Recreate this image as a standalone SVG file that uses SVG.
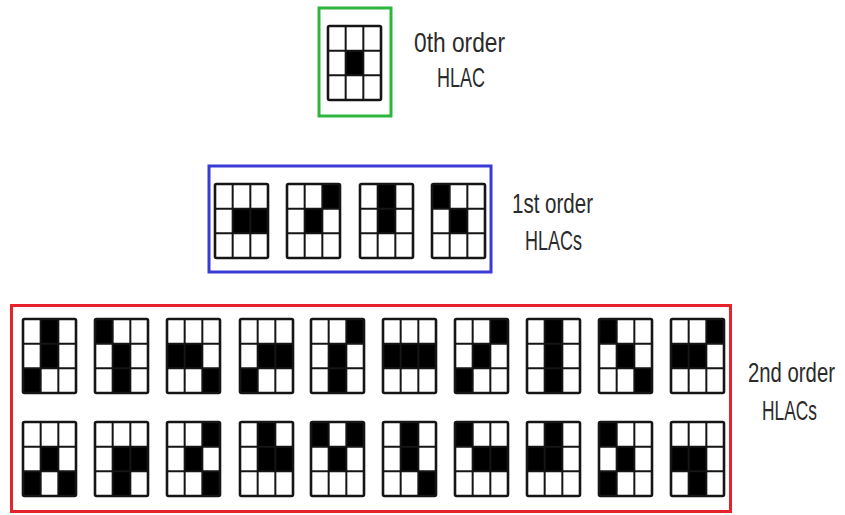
<svg xmlns="http://www.w3.org/2000/svg" xmlns:xlink="http://www.w3.org/1999/xlink" width="845" height="515" viewBox="0 0 845 515">
<style>
.frame{fill:none;stroke-width:3}
.lbl{font-family:"Liberation Sans",Arial,sans-serif;font-size:20px;fill:#2b2b2b;text-anchor:start}
.k{fill:#000}
.gl{fill:none;stroke:#151515;stroke-width:2}
.go{fill:none;stroke:#151515;stroke-width:2.6}
</style>
<defs>
<g id="grid">
<line class="gl" x1="17.67" y1="0" x2="17.67" y2="74"/>
<line class="gl" x1="35.33" y1="0" x2="35.33" y2="74"/>
<line class="gl" x1="0" y1="24.67" x2="53" y2="24.67"/>
<line class="gl" x1="0" y1="49.33" x2="53" y2="49.33"/>
<rect class="go" x="0" y="0" width="53" height="74" rx="1.5"/>
</g>
<rect id="c00" class="k" x="0" y="0" width="17.67" height="24.67"/>
<rect id="c01" class="k" x="17.67" y="0" width="17.67" height="24.67"/>
<rect id="c02" class="k" x="35.33" y="0" width="17.67" height="24.67"/>
<rect id="c10" class="k" x="0" y="24.67" width="17.67" height="24.67"/>
<rect id="c11" class="k" x="17.67" y="24.67" width="17.67" height="24.67"/>
<rect id="c12" class="k" x="35.33" y="24.67" width="17.67" height="24.67"/>
<rect id="c20" class="k" x="0" y="49.33" width="17.67" height="24.67"/>
<rect id="c21" class="k" x="17.67" y="49.33" width="17.67" height="24.67"/>
<rect id="c22" class="k" x="35.33" y="49.33" width="17.67" height="24.67"/>
</defs>
<rect width="845" height="515" fill="#fff"/>

<g id="order0">
<rect class="frame" x="319" y="8" width="72" height="108" stroke="#2db53e"/>
<g id="p0" transform="translate(328,26)"><use xlink:href="#c11"/><use xlink:href="#grid"/></g>
<g transform="translate(414,52) scale(1,1.35)"><text class="lbl" x="0" y="0" textLength="91" lengthAdjust="spacingAndGlyphs">0th order</text></g>
<g transform="translate(437,87) scale(1,1.35)"><text class="lbl" x="0" y="0" textLength="48" lengthAdjust="spacingAndGlyphs">HLAC</text></g>
</g>

<g id="order1">
<rect class="frame" x="209" y="166" width="282" height="106" stroke="#3a3ad6"/>
<g id="p1a" transform="translate(215,184)"><use xlink:href="#c11"/><use xlink:href="#c12"/><use xlink:href="#grid"/></g>
<g id="p1b" transform="translate(287,184)"><use xlink:href="#c02"/><use xlink:href="#c11"/><use xlink:href="#grid"/></g>
<g id="p1c" transform="translate(360,184)"><use xlink:href="#c01"/><use xlink:href="#c11"/><use xlink:href="#grid"/></g>
<g id="p1d" transform="translate(432,184)"><use xlink:href="#c00"/><use xlink:href="#c11"/><use xlink:href="#grid"/></g>
<g transform="translate(512,213) scale(1,1.35)"><text class="lbl" x="0" y="0" textLength="81" lengthAdjust="spacingAndGlyphs">1st order</text></g>
<g transform="translate(525,250) scale(1,1.35)"><text class="lbl" x="0" y="0" textLength="57" lengthAdjust="spacingAndGlyphs">HLACs</text></g>
</g>

<g id="order2">
<rect class="frame" x="11.5" y="305.5" width="719" height="206" stroke="#e6222b"/>
<g id="r1p1" transform="translate(23,319)"><use xlink:href="#c01"/><use xlink:href="#c11"/><use xlink:href="#c20"/><use xlink:href="#grid"/></g>
<g id="r1p2" transform="translate(95,319)"><use xlink:href="#c00"/><use xlink:href="#c11"/><use xlink:href="#c21"/><use xlink:href="#grid"/></g>
<g id="r1p3" transform="translate(167,319)"><use xlink:href="#c10"/><use xlink:href="#c11"/><use xlink:href="#c22"/><use xlink:href="#grid"/></g>
<g id="r1p4" transform="translate(240,319)"><use xlink:href="#c11"/><use xlink:href="#c12"/><use xlink:href="#c20"/><use xlink:href="#grid"/></g>
<g id="r1p5" transform="translate(311,319)"><use xlink:href="#c02"/><use xlink:href="#c11"/><use xlink:href="#c21"/><use xlink:href="#grid"/></g>
<g id="r1p6" transform="translate(383,319)"><use xlink:href="#c10"/><use xlink:href="#c11"/><use xlink:href="#c12"/><use xlink:href="#grid"/></g>
<g id="r1p7" transform="translate(455,319)"><use xlink:href="#c02"/><use xlink:href="#c11"/><use xlink:href="#c20"/><use xlink:href="#grid"/></g>
<g id="r1p8" transform="translate(527,319)"><use xlink:href="#c01"/><use xlink:href="#c11"/><use xlink:href="#c21"/><use xlink:href="#grid"/></g>
<g id="r1p9" transform="translate(599,319)"><use xlink:href="#c00"/><use xlink:href="#c11"/><use xlink:href="#c22"/><use xlink:href="#grid"/></g>
<g id="r1p10" transform="translate(671,319)"><use xlink:href="#c02"/><use xlink:href="#c10"/><use xlink:href="#c11"/><use xlink:href="#grid"/></g>

<g id="r2p1" transform="translate(23,422)"><use xlink:href="#c11"/><use xlink:href="#c20"/><use xlink:href="#c22"/><use xlink:href="#grid"/></g>
<g id="r2p2" transform="translate(95,422)"><use xlink:href="#c11"/><use xlink:href="#c12"/><use xlink:href="#c21"/><use xlink:href="#grid"/></g>
<g id="r2p3" transform="translate(167,422)"><use xlink:href="#c02"/><use xlink:href="#c11"/><use xlink:href="#c22"/><use xlink:href="#grid"/></g>
<g id="r2p4" transform="translate(240,422)"><use xlink:href="#c01"/><use xlink:href="#c11"/><use xlink:href="#c12"/><use xlink:href="#grid"/></g>
<g id="r2p5" transform="translate(311,422)"><use xlink:href="#c00"/><use xlink:href="#c02"/><use xlink:href="#c11"/><use xlink:href="#grid"/></g>
<g id="r2p6" transform="translate(383,422)"><use xlink:href="#c01"/><use xlink:href="#c11"/><use xlink:href="#c22"/><use xlink:href="#grid"/></g>
<g id="r2p7" transform="translate(455,422)"><use xlink:href="#c00"/><use xlink:href="#c11"/><use xlink:href="#c12"/><use xlink:href="#grid"/></g>
<g id="r2p8" transform="translate(527,422)"><use xlink:href="#c01"/><use xlink:href="#c10"/><use xlink:href="#c11"/><use xlink:href="#grid"/></g>
<g id="r2p9" transform="translate(599,422)"><use xlink:href="#c00"/><use xlink:href="#c11"/><use xlink:href="#c20"/><use xlink:href="#grid"/></g>
<g id="r2p10" transform="translate(671,422)"><use xlink:href="#c10"/><use xlink:href="#c11"/><use xlink:href="#c21"/><use xlink:href="#grid"/></g>
<g transform="translate(748,382) scale(1,1.35)"><text class="lbl" x="0" y="0" textLength="87" lengthAdjust="spacingAndGlyphs">2nd order</text></g>
<g transform="translate(762,420) scale(1,1.35)"><text class="lbl" x="0" y="0" textLength="55" lengthAdjust="spacingAndGlyphs">HLACs</text></g>
</g>
<g id="connectors"/>
</svg>
